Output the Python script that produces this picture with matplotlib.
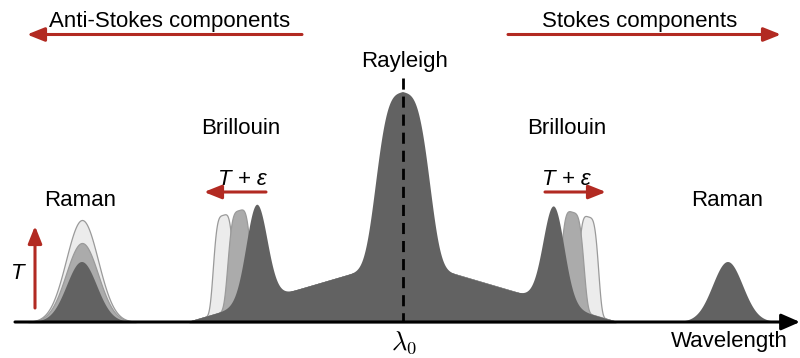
import numpy as np
import matplotlib
import matplotlib.pyplot as plt

matplotlib.use("agg")
plt.rcParams["font.family"] = ["Liberation Sans", "DejaVu Sans"]
plt.rcParams["mathtext.fontset"] = "cm"

# spectrum description (x in wavelength px, heights above the baseline)
base_y = 322
ramp_x = [188, 403, 617]
ramp_h = [0, 63, 0]

rayleigh_center = 403
rayleigh_amp = 167
rayleigh_width = 30

brillouin_centers = [257, 554]
brillouin_amp = 97
brillouin_sigma = 10.5
# shifted Brillouin lines (T + eps): medium and light copies
brillouin_mid_centers = [239, 572]
brillouin_light_centers = [223, 588]

raman_centers = [82, 728]
raman_anti_heights = [60, 79, 102]   # dark, medium, light
raman_stokes_height = 60
raman_sigma = 15

dark = "#626262"
mid = "#ababab"
light = "#ececec"
edge = "#9a9a9a"
red = "#b22a22"

wl = np.linspace(0, 800, 3201)


def gauss(x, c, a, s):
    return a * np.exp(-((x - c) ** 2) / (2 * s**2))


def flat(x, c, a, w, p=4):
    return a * np.exp(-np.abs((x - c) / w) ** p)


ramp = np.interp(wl, ramp_x, ramp_h)

fig = plt.figure(figsize=(8, 3.58), dpi=100)
ax = fig.add_axes([0, 0, 1, 1])
ax.set_xlim(0, 800)
ax.set_ylim(358, 0)
ax.axis("off")


def fill(h, fc, ec=None, z=1):
    ax.fill_between(wl, base_y, base_y - h, where=h > 0.3, facecolor=fc,
                    edgecolor=ec if ec else "none", linewidth=0.9 if ec else 0, zorder=z)


# shifted Brillouin copies behind
for c in brillouin_light_centers:
    fill(ramp + flat(wl, c, brillouin_amp, 11), light, edge, 1)
for c in brillouin_mid_centers:
    fill(ramp + flat(wl, c, brillouin_amp, 12.5), mid, edge, 2)

# Raman anti-Stokes copies behind
for h, col, ec, z in zip(raman_anti_heights[::-1], [light, mid], [edge, edge], [1, 2]):
    fill(gauss(wl, raman_centers[0], h, raman_sigma + 1), col, ec, z)

# main dark spectrum
main = ramp + flat(wl, rayleigh_center, rayleigh_amp, rayleigh_width, 3.5)
for c in brillouin_centers:
    main = main + gauss(wl, c, brillouin_amp, brillouin_sigma)
fill(main, dark, None, 3)
fill(gauss(wl, raman_centers[0], raman_anti_heights[0], raman_sigma), dark, None, 3)
fill(gauss(wl, raman_centers[1], raman_stokes_height, raman_sigma), dark, None, 3)

# lambda_0 dashed line
ax.plot([rayleigh_center, rayleigh_center], [78, base_y], color="black", lw=2,
        dashes=(4, 2.5), zorder=4)

# wavelength axis
ax.annotate("", xy=(800, base_y), xytext=(15, base_y), annotation_clip=False,
            arrowprops=dict(arrowstyle="-|>,head_length=0.8,head_width=0.35", lw=2.2,
                            color="black", mutation_scale=14, shrinkA=0, shrinkB=0),
            zorder=5)


def red_arrow(x0, y0, x1, y1, lw=2.2):
    ax.annotate("", xy=(x1, y1), xytext=(x0, y0), annotation_clip=False,
                arrowprops=dict(arrowstyle="-|>,head_length=0.8,head_width=0.32", lw=lw,
                                color=red, mutation_scale=13, shrinkA=0, shrinkB=0),
                zorder=5)


red_arrow(302, 34.5, 27, 34.5)
red_arrow(508, 34.5, 781, 34.5)
red_arrow(266, 192, 204, 192)
red_arrow(545, 192, 606, 192)
red_arrow(35, 308, 35, 226)

fs = 16
ax.text(170, 27, "Anti-Stokes components", fontsize=fs, ha="center", va="baseline")
ax.text(640, 27, "Stokes components", fontsize=fs, ha="center", va="baseline")
ax.text(405, 67, "Rayleigh", fontsize=fs, ha="center", va="baseline")
ax.text(241, 134, "Brillouin", fontsize=fs, ha="center", va="baseline")
ax.text(567, 134, "Brillouin", fontsize=fs, ha="center", va="baseline")
ax.text(80, 206, "Raman", fontsize=fs, ha="center", va="baseline")
ax.text(727, 206, "Raman", fontsize=fs, ha="center", va="baseline")
ax.text(242, 185, "T + ε", fontsize=fs, style="italic", ha="center", va="baseline")
ax.text(566, 185, "T + ε", fontsize=fs, style="italic", ha="center", va="baseline")
ax.text(18, 279, "T", fontsize=fs, style="italic", ha="center", va="baseline")
ax.text(404, 350, "$\\lambda_0$", fontsize=19, ha="center", va="baseline")
ax.text(729, 347, "Wavelength", fontsize=fs, ha="center", va="baseline")

fig.savefig("out.png", dpi=100)
